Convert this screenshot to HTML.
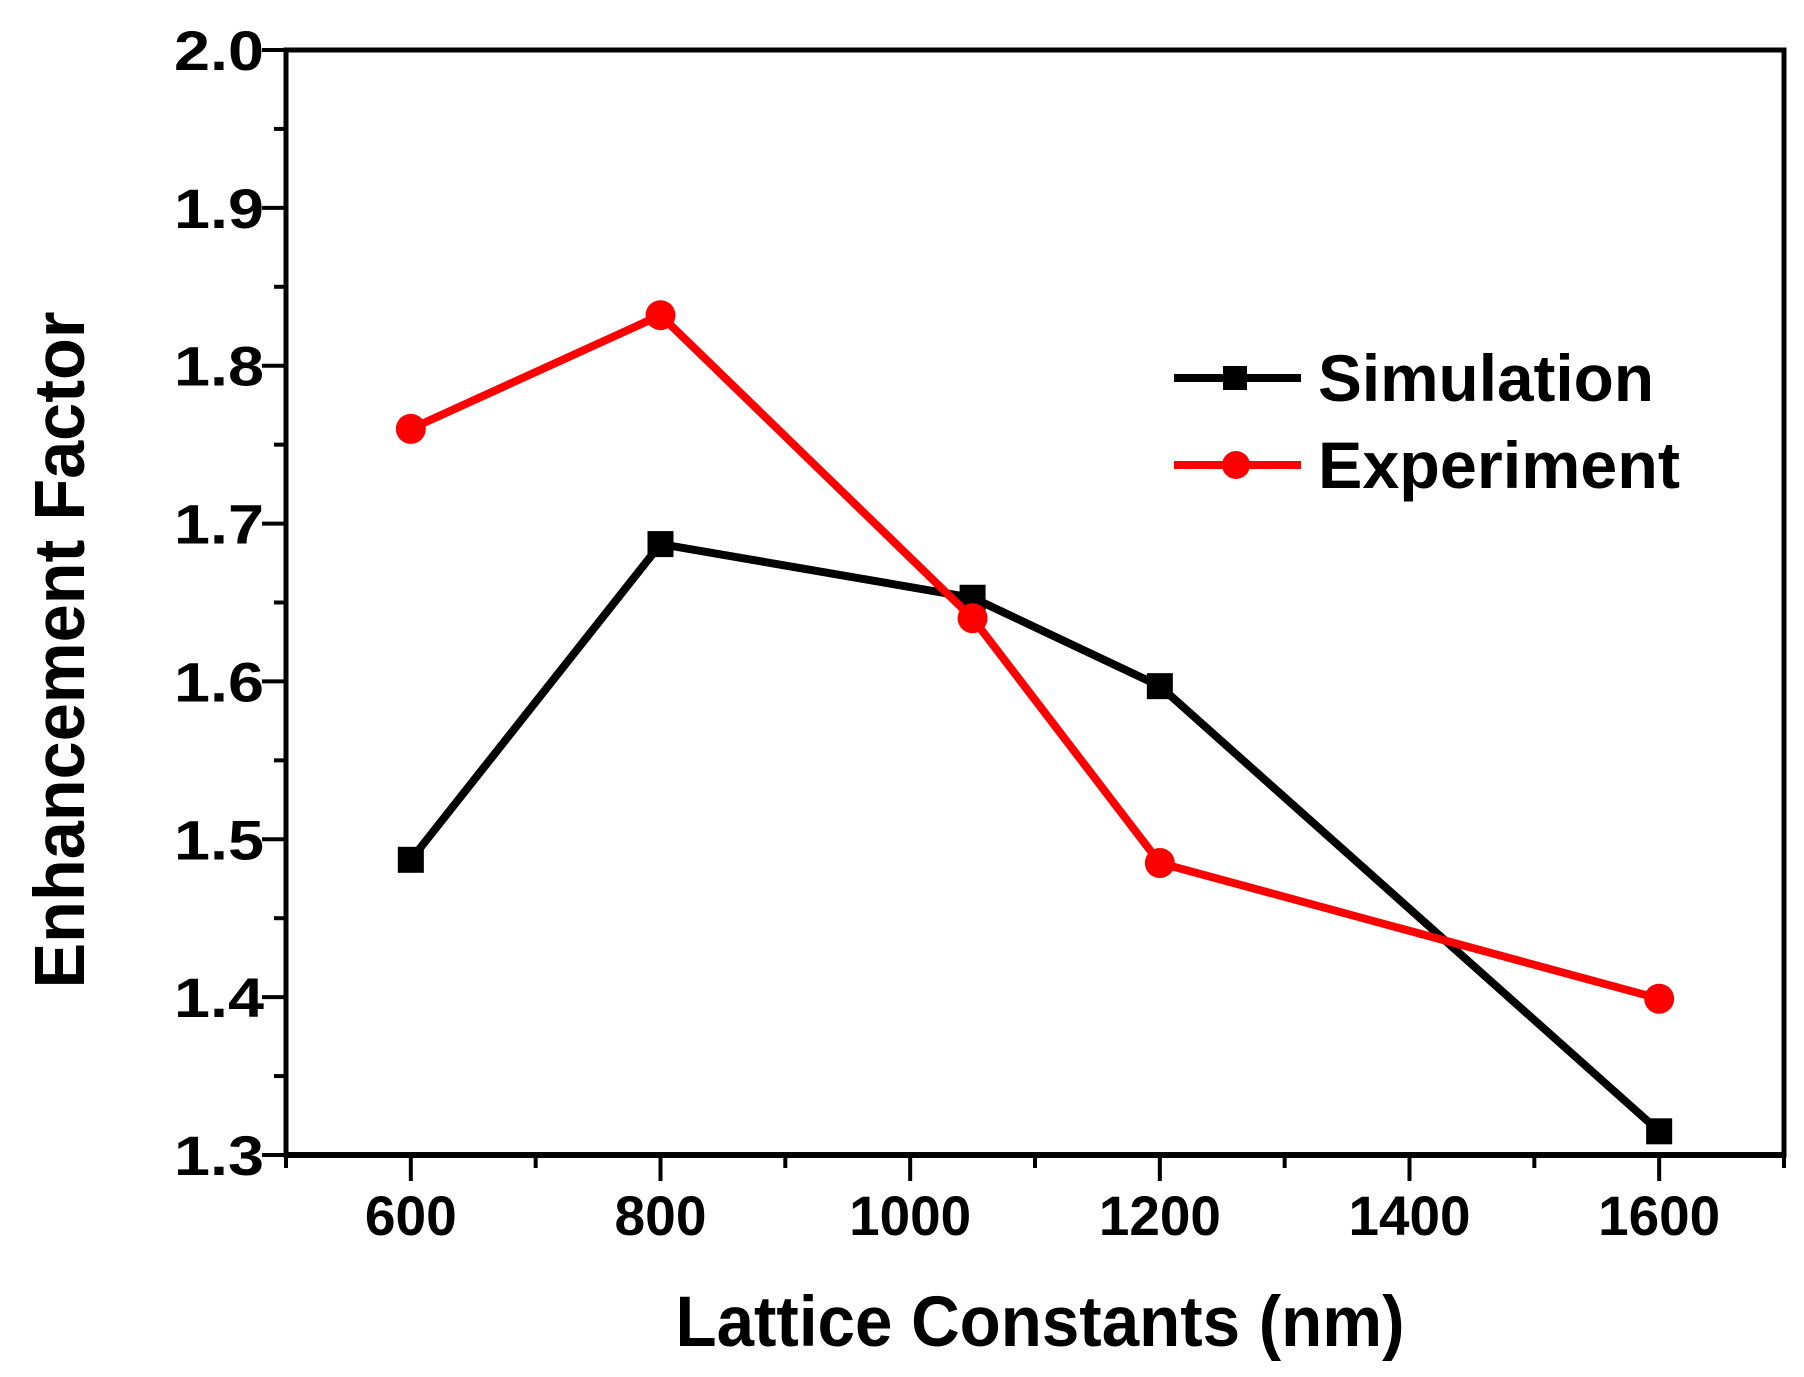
<!DOCTYPE html>
<html><head><meta charset="utf-8"><style>html,body{margin:0;padding:0;background:#fff}svg{display:block}text{font-family:"Liberation Sans",Arial,sans-serif;font-weight:bold;fill:#000}</style></head>
<body>
<svg id="chart" width="1804" height="1377" viewBox="0 0 1804 1377" xmlns="http://www.w3.org/2000/svg"></svg>
<script>
const xCats=[600,800,1050,1200,1600];
const simValues=[1.487,1.687,1.653,1.597,1.315];
const expValues=[1.760,1.832,1.640,1.485,1.399];
const xTicks=[600,800,1000,1200,1400,1600];
const yTicks=[1.3,1.4,1.5,1.6,1.7,1.8,1.9,2.0];
const L=286,R=1784,T=50,B=1155;
const xMin=500,xMax=1700,yMin=1.3,yMax=2.0;
function X(v){return L+(v-xMin)/(xMax-xMin)*(R-L);}
function Y(v){return B-(v-yMin)/(yMax-yMin)*(B-T);}
const svg=document.getElementById('chart');
const NS='http://www.w3.org/2000/svg';
function mk(tag,attrs,parent){const e=document.createElementNS(NS,tag);for(const k in attrs)e.setAttribute(k,attrs[k]);(parent||svg).appendChild(e);return e;}
let e;
e=mk('rect',{x:L,y:T,width:R-L,height:B-T,fill:'none',stroke:'#000','stroke-width':5});


e=mk('line',{x1:L,y1:B,x2:R,y2:B,stroke:'#000','stroke-width':6});


for(let v=500;v<=1700;v+=100){
  const major=xTicks.indexOf(v)>=0;
  e=mk('line',{x1:X(v),y1:B,x2:X(v),y2:B+(major?26:13),stroke:'#000','stroke-width':4});
  
  
}
xTicks.forEach(v=>{
  e=mk('text',{x:X(v),y:1235,'font-size':56,'text-anchor':'middle',textLength:v>=1000?122:92,lengthAdjust:'spacingAndGlyphs'});
  e.textContent=v;
  
  
});
for(let i=0;i<=14;i++){
  const v=1.3+i*0.05;const major=i%2==0;
  e=mk('line',{x1:L-(major?24:12),y1:Y(v),x2:L,y2:Y(v),stroke:'#000','stroke-width':4});
  
  
}
yTicks.forEach(v=>{
  e=mk('text',{x:264,y:Y(v)+20,'font-size':56,'text-anchor':'end',textLength:90,lengthAdjust:'spacingAndGlyphs'});
  e.textContent=v.toFixed(1);
  
  
});
e=mk('text',{x:1040,y:1346,'font-size':71,'text-anchor':'middle',textLength:729,lengthAdjust:'spacingAndGlyphs'});
e.textContent='Lattice Constants (nm)';


e=mk('text',{x:0,y:0,'font-size':71,'text-anchor':'middle',textLength:677,lengthAdjust:'spacingAndGlyphs',transform:'translate(84,650) rotate(-90)'});
e.textContent='Enhancement Factor';


function series(vals,color,name,shape){
  const pts=xCats.map((c,i)=>X(c)+','+Y(vals[i])).join(' ');
  e=mk('polyline',{points:pts,fill:'none',stroke:color,'stroke-width':8,'stroke-linejoin':'round'});
  
  
  xCats.forEach((c,i)=>{
    if(shape=='square'){e=mk('rect',{x:X(c)-13,y:Y(vals[i])-13,width:26,height:26,fill:color});}
    else{e=mk('circle',{cx:X(c),cy:Y(vals[i]),r:15,fill:color});}
    
    
  });
}
series(simValues,'#000','simulation','square');
series(expValues,'#f00','experiment','circle');
e=mk('line',{x1:1174,y1:378,x2:1301,y2:378,stroke:'#000','stroke-width':8});


e=mk('rect',{x:1223,y:366,width:24,height:24,fill:'#000'});


e=mk('text',{x:1318,y:401,'font-size':66,textLength:336,lengthAdjust:'spacingAndGlyphs'});
e.textContent='Simulation';


e=mk('line',{x1:1174,y1:465,x2:1301,y2:465,stroke:'#f00','stroke-width':8});


e=mk('circle',{cx:1236,cy:465,r:14,fill:'#f00'});


e=mk('text',{x:1318,y:488,'font-size':66,textLength:362,lengthAdjust:'spacingAndGlyphs'});
e.textContent='Experiment';


</script>
</body></html>
